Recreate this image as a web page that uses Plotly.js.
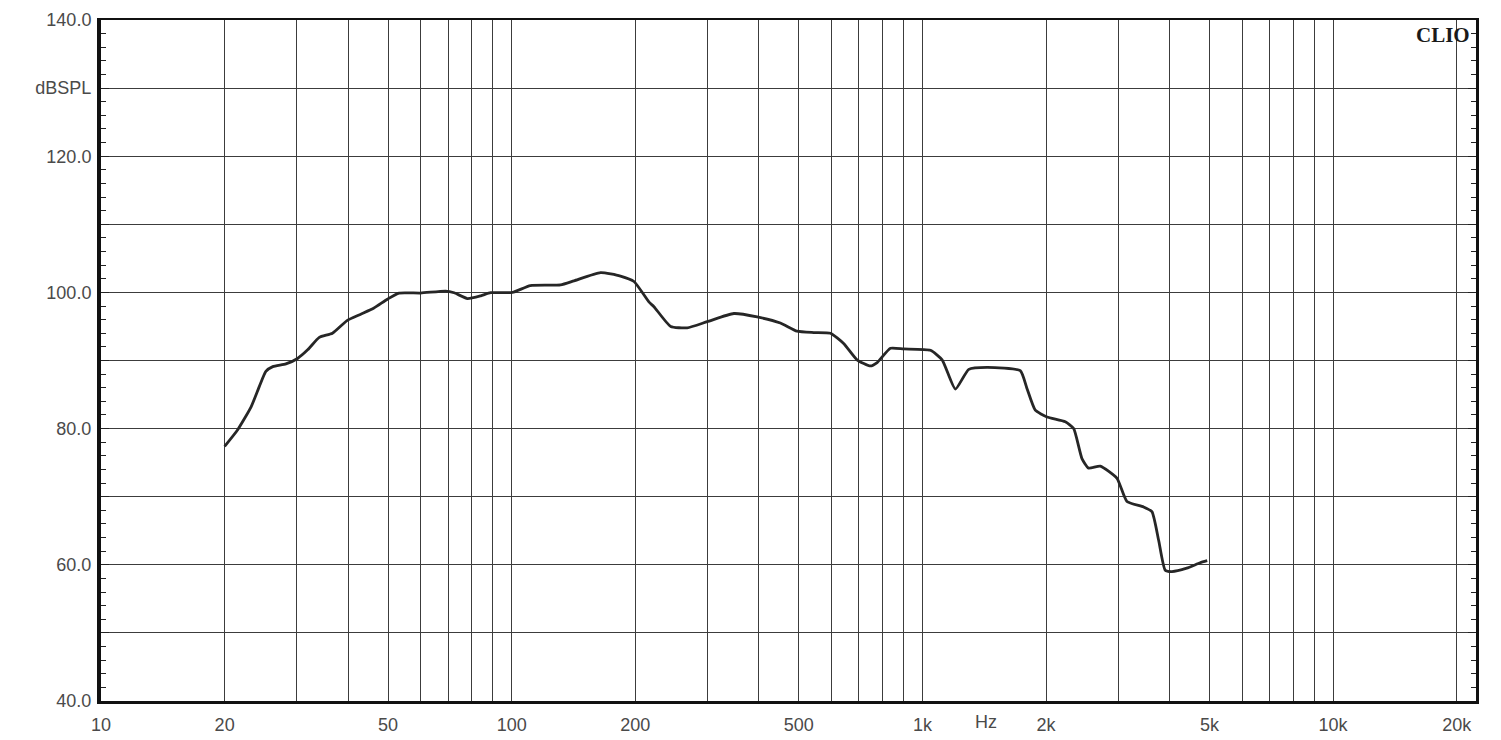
<!DOCTYPE html>
<html>
<head>
<meta charset="utf-8">
<script src="https://cdn.plot.ly/plotly-3.0.1.min.js"></script>
<style>html,body{margin:0;padding:0;background:#fff;}#chart{width:1501px;height:740px;}</style>
</head>
<body>
<div id="chart"></div>
<script>
// Frequency response (Hz) and sound pressure level (dBSPL)
const freqHz = [20, 21.5, 23.2, 24.3, 25.2, 26.2, 28.2, 30.1, 31.9, 34.0, 36.6, 39.8, 42.9, 46.2, 49.8, 53.2, 60.0, 69.0, 72.4, 78, 84.1, 88.9, 100.4, 111, 131.5, 141.8, 164.6, 184, 198.5, 215.8, 222, 243.8, 267.6, 299.3, 347.5, 396, 451, 495, 544, 597, 643, 693, 747, 776, 836, 901, 1046, 1117, 1203, 1297, 1437, 1731, 1797, 1883, 2011, 2228, 2335, 2446, 2539, 2711, 2977, 3148, 3455, 3621, 3760, 3901, 4051, 4402, 4745, 4937];
const splDb = [77.4, 79.8, 83.2, 86.2, 88.4, 89.1, 89.5, 90.3, 91.6, 93.4, 94.0, 95.9, 96.8, 97.7, 99.0, 99.9, 99.9, 100.2, 99.95, 99.1, 99.5, 99.95, 100.0, 101.0, 101.1, 101.7, 102.9, 102.4, 101.6, 98.6, 97.9, 95.0, 94.8, 95.7, 96.9, 96.4, 95.5, 94.3, 94.1, 94.0, 92.5, 90.1, 89.2, 89.7, 91.8, 91.7, 91.5, 90.1, 85.8, 88.7, 89.0, 88.5, 85.9, 82.7, 81.7, 81.0, 80.0, 75.6, 74.2, 74.5, 72.7, 69.3, 68.5, 67.8, 63.6, 59.2, 59.0, 59.5, 60.3, 60.6];

// Axis ticks
const xGridVals = [10,20,30,40,50,60,70,80,90,100,200,300,400,500,600,700,800,900,1000,2000,3000,4000,5000,6000,7000,8000,9000,10000,20000];
const xTickText = ['10','20','','','50','','','','','100','200','','','500','','','','','1k','2k','','','5k','','','','','10k','20k'];
const yGridVals = [40,50,60,70,80,90,100,110,120,130,140];
const yTickText = ['40.0','','60.0','','80.0','','100.0','','120.0','dBSPL','140.0'];

const gridColor = '#3c3c3c';
const textFont = {family: 'Liberation Sans, Arial, sans-serif', size: 18, color: '#4a4a4a'};

const trace = {
  x: freqHz, y: splDb, type: 'scatter', mode: 'lines',
  line: {color: '#262626', width: 2.8, shape: 'spline', smoothing: 0.5},
  hoverinfo: 'x+y', showlegend: false
};

const layout = {
  width: 1501, height: 740,
  margin: {l: 101, r: 25, t: 20, b: 39, pad: 0},
  paper_bgcolor: '#ffffff', plot_bgcolor: '#ffffff',
  showlegend: false,
  xaxis: {
    type: 'log', range: [1, Math.log10(22280)],
    tickmode: 'array', tickvals: xGridVals, ticktext: xTickText,
    ticks: '', showgrid: true, gridcolor: gridColor, gridwidth: 1,
    zeroline: false, showline: true, linecolor: '#111', linewidth: 3, mirror: false,
    tickfont: textFont, ticklabelstandoff: 5
  },
  xaxis2: {
    type: 'log', range: [1, Math.log10(22280)], overlaying: 'x', side: 'top',
    showticklabels: false, ticks: '', showgrid: false, showline: true,
    linecolor: '#111', linewidth: 2, zeroline: false
  },
  yaxis: {
    range: [40, 140], tickmode: 'array', tickvals: yGridVals, ticktext: yTickText,
    ticks: 'inside', ticklen: 8, tickcolor: '#222', tickwidth: 1,
    minor: {dtick: 2, ticks: 'inside', ticklen: 5, tickcolor: '#222', showgrid: false},
    showgrid: true, gridcolor: gridColor, gridwidth: 1,
    zeroline: false, showline: true, linecolor: '#111', linewidth: 4,
    tickfont: textFont, ticklabelstandoff: 2
  },
  yaxis2: {
    range: [40, 140], overlaying: 'y', side: 'right', anchor: 'x',
    tickmode: 'array', tickvals: yGridVals, showticklabels: false,
    ticks: 'inside', ticklen: 8, tickcolor: '#222',
    minor: {dtick: 2, ticks: 'inside', ticklen: 5, tickcolor: '#222', showgrid: false},
    showgrid: false, zeroline: false, showline: true, linecolor: '#111', linewidth: 3
  },
  annotations: [
    {text: 'Hz', xref: 'x', yref: 'paper', x: Math.log10(1430), y: 0, yshift: -21,
     showarrow: false, font: textFont, xanchor: 'center', yanchor: 'middle'},
    {text: '<b>CLIO</b>', xref: 'paper', yref: 'paper', x: 0.997, y: 0.999,
     showarrow: false, xanchor: 'right', yanchor: 'top',
     font: {family: 'Liberation Serif, DejaVu Serif, serif', size: 21, color: '#1a1a1a'}}
  ]
};

const dummyTop = {x: [20], y: [100], xaxis: 'x2', yaxis: 'y2', mode: 'none', hoverinfo: 'skip', showlegend: false};

Plotly.newPlot('chart', [trace, dummyTop], layout, {staticPlot: true});
</script>
</body>
</html>
